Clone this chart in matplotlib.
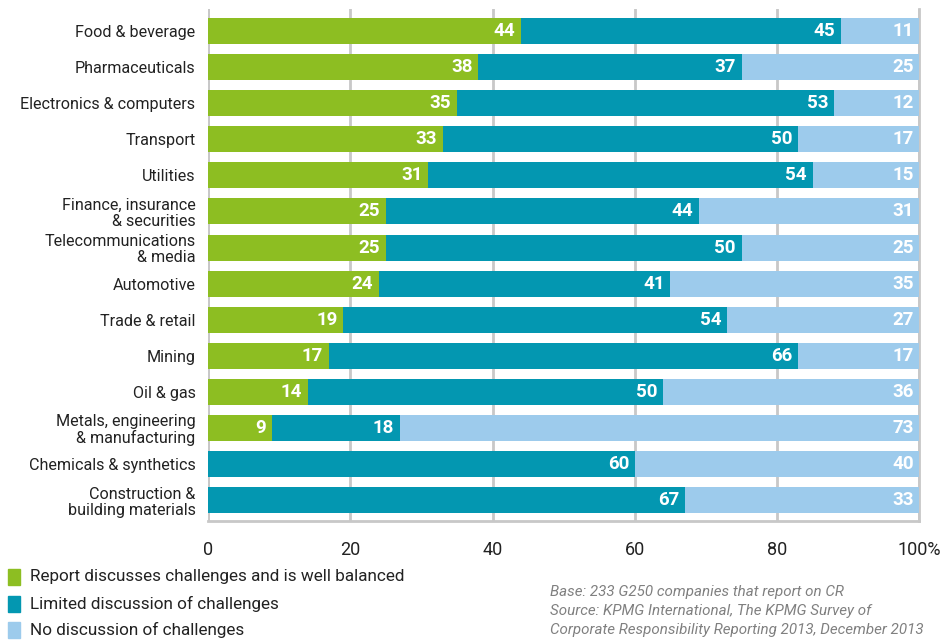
import matplotlib
matplotlib.use("Agg")
import matplotlib.pyplot as plt
import numpy as np

plt.rcParams['font.family'] = ['Roboto', 'DejaVu Sans']

categories = ["Food & beverage", "Pharmaceuticals", "Electronics & computers", "Transport",
              "Utilities", "Finance, insurance\n& securities", "Telecommunications\n& media",
              "Automotive", "Trade & retail", "Mining", "Oil & gas",
              "Metals, engineering\n& manufacturing", "Chemicals & synthetics",
              "Construction &\nbuilding materials"]
balanced = [44, 38, 35, 33, 31, 25, 25, 24, 19, 17, 14, 9, 0, 0]
limited = [45, 37, 53, 50, 54, 44, 50, 41, 54, 66, 50, 18, 60, 67]
none_ = [11, 25, 12, 17, 15, 31, 25, 35, 27, 17, 36, 73, 40, 33]
series_names = ["Report discusses challenges and is well balanced",
                "Limited discussion of challenges",
                "No discussion of challenges"]
colors = ["#8dbe22", "#0397b1", "#9dcbec"]
xticks = [0, 20, 40, 60, 80, 100]
xticklabels = ["0", "20", "40", "60", "80", "100%"]

fig = plt.figure(figsize=(9.41, 6.41), dpi=100)
ax = fig.add_axes([0.221, 0.187, 0.756, 0.799])

y = np.arange(len(categories))
left = np.zeros(len(categories))
for vals, c in zip([balanced, limited, none_], colors):
    vals = np.array(vals, dtype=float)
    ax.barh(y, vals, left=left, height=0.72, color=c, zorder=3)
    for yi, l, v in zip(y, left, vals):
        if v > 0:
            ax.text(l + v - 0.8, yi, f"{int(v)}", ha='right', va='center',
                    color='white', fontsize=13.5, fontweight='bold', zorder=4)
    left += vals

ax.set_xlim(0, 100)
ax.set_ylim(13.58, -0.61)
ax.set_yticks(y)
ax.set_yticklabels(categories, fontsize=11.6, color='#222222', linespacing=1.1,
                   multialignment='right')
ax.set_xticks(xticks)
ax.set_xticklabels(xticklabels, fontsize=13, color='#222222')
ax.tick_params(axis='both', length=0)
ax.tick_params(axis='y', pad=9)
ax.tick_params(axis='x', pad=14)
ax.grid(axis='x', color='#c8c8c8', linewidth=2, zorder=0)
for s in ['top', 'left']:
    ax.spines[s].set_visible(False)
for s in ['bottom', 'right']:
    ax.spines[s].set_color('#c8c8c8')
    ax.spines[s].set_linewidth(2)
ax.axvline(0, color='#c8c8c8', linewidth=2, zorder=0)

# legend
for i, (name, c) in enumerate(zip(series_names, colors)):
    ypix = 577 + i * 26.5
    yf = 1 - ypix / 641
    fig.patches.append(matplotlib.patches.Rectangle((8 / 941, yf - 8 / 641), 12 / 941, 16 / 641,
                                                    transform=fig.transFigure, color=c))
    fig.text(30 / 941, yf, name, fontsize=12.3, color='#222222', va='center', ha='left')

notes = ["Base: 233 G250 companies that report on CR",
         "Source: KPMG International, The KPMG Survey of",
         "Corporate Responsibility Reporting 2013, December 2013"]
for i, t in enumerate(notes):
    fig.text(550 / 941, 1 - (592 + i * 19) / 641, t, fontsize=10.9, style='italic',
             color='#808080', va='center', ha='left')

fig.savefig("out.png", dpi=100)
